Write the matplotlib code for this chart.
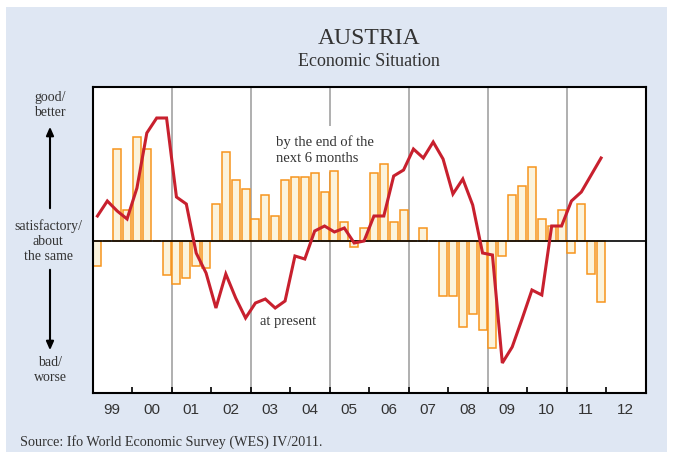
import numpy as np
import matplotlib.pyplot as plt
from matplotlib.patches import Rectangle

# quarterly survey results 1999 Q1 .. 2011 Q4 (balance, arbitrary units)
expectations = [-25, 0, 92, 31, 104, 92, 0, -34,
                -43, -37, -25, -27, 37, 89, 61, 52,
                22, 46, 25, 61, 64, 64, 68, 49,
                70, 19, -6, 13, 68, 77, 19, 31,
                0, 13, 0, -55, -55, -86, -73, -89,
                -107, -15, 46, 55, 74, 22, 15, 31,
                -12, 37, -33, -61]
present = [25, 40, 30, 22, 53, 108, 123, 123,
           44, 37, -12, -32, -67, -33, -57, -77,
           -62, -58, -67, -60, -15, -18, 10, 15,
           9, 13, -2, 0, 25, 25, 65, 71,
           92, 83, 99, 82, 47, 62, 36, -12,
           -14, -122, -106, -78, -49, -54, 15, 15,
           40, 49, 66, 83]
year_labels = ['99', '00', '01', '02', '03', '04', '05',
               '06', '07', '08', '09', '10', '11', '12']
first_year = 1999

bg = '#dfe7f3'
orange = '#f7941d'
cream = '#fbf3dc'
red = '#c8202e'
txt = '#333333'
serif = 'Liberation Serif'

fig = plt.figure(figsize=(6.73, 4.54), dpi=100)
fig.patch.set_facecolor('white')
fig.patches.append(Rectangle((6/673, 2/454), 661/673, 445/454, transform=fig.transFigure,
                             facecolor=bg, edgecolor='none', zorder=-5))

ax = fig.add_axes([92.5/673, 1 - 393/454, 553/673, 306/454])
ax.set_facecolor('white')

x = first_year + (np.arange(len(present)) + 0.5) / 4
n_years = len(year_labels)
ax.set_xlim(first_year, first_year + n_years)
ax.set_ylim(-152, 154)

for yr in range(first_year + 2, first_year + n_years, 2):
    ax.axvline(yr, color='#9a9a9a', lw=1.1, zorder=1)

ax.bar(x, expectations, width=0.2, facecolor=cream, edgecolor=orange, linewidth=1.1, zorder=3)
ax.axhline(0, color='black', lw=1.2, zorder=4)
ax.plot(x, present, color=red, lw=2.2, zorder=5, solid_joinstyle='miter')

# annotations in pixel coords (origin bottom-left)
H = 454
ax.add_patch(Rectangle((272, H - 172), 106, 46, transform=None,
                       facecolor='white', edgecolor='none', zorder=2))
ax.text(276, H - 150, 'by the end of the\nnext 6 months', transform=None, fontsize=10.5,
        family=serif, color=txt, va='center', ha='left', linespacing=1.35, zorder=2.5)
ax.text(260, H - 321, 'at present', transform=None, fontsize=10.5,
        family=serif, color=txt, va='center', ha='left', zorder=2)

# ticks
ax.set_xticks(np.arange(first_year + 1, first_year + n_years))
ax.set_xticklabels([])
ax.set_xticks(first_year + 0.5 + np.arange(n_years), minor=True)
ax.set_xticklabels(year_labels, minor=True, family='Liberation Sans', fontsize=11, color=txt)
ax.tick_params(axis='x', which='major', direction='in', length=4, width=1.2, color='black')
ax.tick_params(axis='x', which='minor', length=0, pad=7)
ax.set_yticks([])
for s in ax.spines.values():
    s.set_linewidth(1.5)
    s.set_color('black')
    s.set_zorder(6)

def ftext(px, py, s, **kw):
    fig.text(px/673, 1 - py/H, s, family=serif, color=txt, **kw)

ftext(369, 38, 'AUSTRIA', fontsize=17, ha='center', va='center')
ftext(369, 61, 'Economic Situation', fontsize=13, ha='center', va='center')
ftext(50, 104.5, 'good/\nbetter', fontsize=10, ha='center', va='center', linespacing=1.2)
ftext(48, 241, 'satisfactory/\nabout\nthe same', fontsize=10, ha='center', va='center', linespacing=1.2)
ftext(50, 370, 'bad/\nworse', fontsize=10, ha='center', va='center', linespacing=1.2)
ftext(20, 442, 'Source: Ifo World Economic Survey (WES) IV/2011.', fontsize=10.2,
      ha='left', va='center')

arrow = dict(arrowstyle='-|>,head_length=0.5,head_width=0.22', color='black', lw=1.5)
fig.add_artist(plt.Annotation('', xy=(50/673, 1 - 124/H), xytext=(50/673, 1 - 211/H),
                              xycoords='figure fraction', arrowprops=arrow))
fig.add_artist(plt.Annotation('', xy=(50/673, 1 - 353/H), xytext=(50/673, 1 - 267/H),
                              xycoords='figure fraction', arrowprops=arrow))

fig.savefig('out.png', dpi=100)
